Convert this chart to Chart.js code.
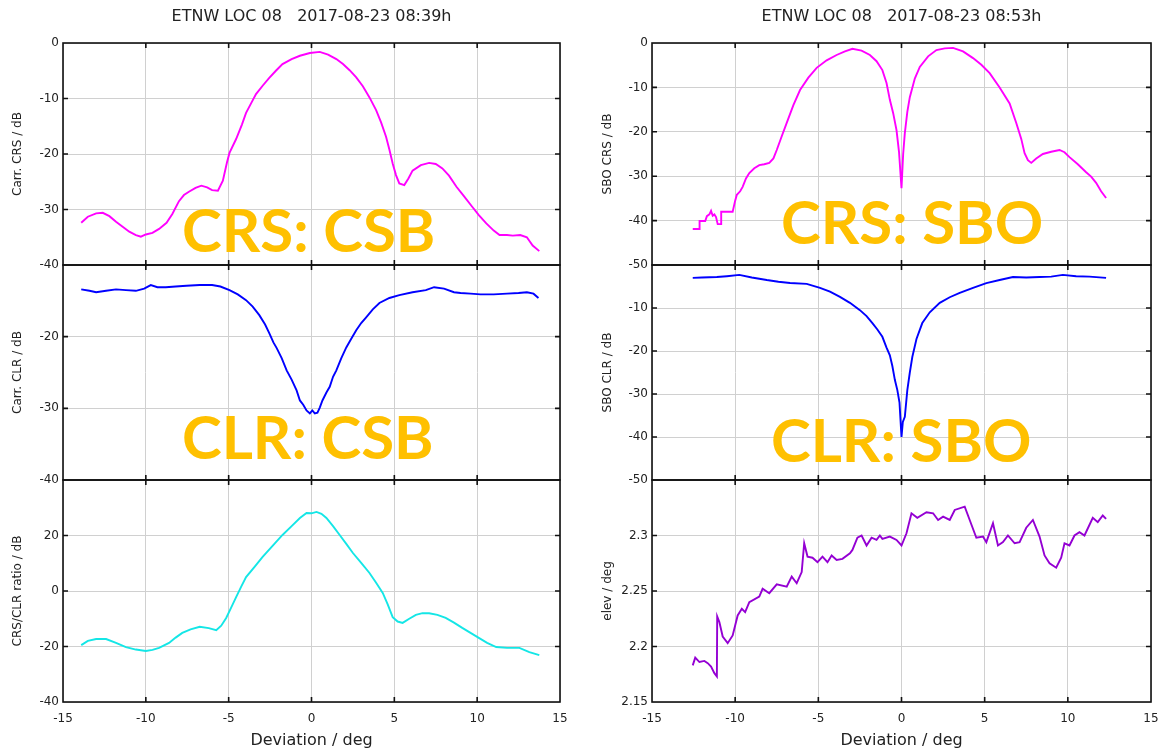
<!DOCTYPE html>
<html>
<head>
<meta charset="utf-8">
<title>ETNW LOC 08</title>
<script src="https://cdn.jsdelivr.net/npm/chart.js@4.4.1/dist/chart.umd.min.js"></script>
<style>
  html, body { margin: 0; padding: 0; background: #fff; }
  #page { position: relative; width: 1170px; height: 756px; overflow: hidden; }
  canvas { position: absolute; top: 0; }
  #csbChart { left: 0; }
  #sboChart { left: 590px; }
  .tag {
    position: absolute;
    font-family: Lato, "Open Sans", sans-serif;
    font-weight: bold;
    font-size: 60px;
    line-height: 1;
    color: #ffc000;
    white-space: nowrap;
  }
</style>
</head>
<body>
<div id="page">
  <canvas id="csbChart" width="590" height="756"></canvas>
  <canvas id="sboChart" width="580" height="756"></canvas>
  <div class="tag" style="left:182px; top:199px;">CRS: CSB</div>
  <div class="tag" style="left:182px; top:406px;">CLR: CSB</div>
  <div class="tag" style="left:781px; top:191px;">CRS: SBO</div>
  <div class="tag" style="left:771px; top:409px;">CLR: SBO</div>
</div>
<script>
// CSB run, 08:39h
const crsCsbDev = [-13.9, -13.5, -13.0, -12.6, -12.2, -11.8, -11.4, -11.0, -10.6, -10.3, -10.0, -9.6, -9.2, -8.75, -8.4, -8.0, -7.7, -7.4, -7.0, -6.65, -6.3, -6.0, -5.65, -5.35, -5.1, -4.95, -4.55, -4.2, -3.95, -3.6, -3.35, -2.95, -2.55, -2.15, -1.75, -1.2, -0.7, -0.1, 0.5, 1.0, 1.5, 1.9, 2.3, 2.7, 3.1, 3.5, 3.9, 4.2, 4.5, 4.7, 4.9, 5.1, 5.3, 5.6, 5.85, 6.1, 6.6, 7.1, 7.5, 7.9, 8.3, 8.75, 9.2, 9.7, 10.1, 10.55, 11.0, 11.35, 11.8, 12.15, 12.6, 13.0, 13.35, 13.75];
const crsCsbDb = [-32.4, -31.3, -30.7, -30.6, -31.2, -32.2, -33.1, -34.0, -34.6, -34.9, -34.5, -34.2, -33.5, -32.4, -30.8, -28.5, -27.4, -26.8, -26.1, -25.7, -26.0, -26.5, -26.6, -24.8, -21.5, -19.8, -17.3, -14.7, -12.6, -10.6, -9.2, -7.7, -6.3, -5.0, -3.8, -2.9, -2.3, -1.8, -1.6, -2.1, -2.9, -3.8, -4.9, -6.2, -7.8, -9.8, -12.1, -14.3, -16.9, -19.2, -21.7, -23.8, -25.3, -25.6, -24.4, -23.0, -22.0, -21.6, -21.8, -22.6, -23.9, -25.9, -27.6, -29.5, -31.0, -32.5, -33.8, -34.6, -34.6, -34.7, -34.6, -35.0, -36.5, -37.5];

const clrCsbDev = [-13.9, -13.4, -13.0, -12.4, -11.8, -11.2, -10.6, -10.1, -9.7, -9.3, -8.8, -8.2, -7.55, -6.75, -6.0, -5.5, -4.95, -4.45, -3.95, -3.55, -3.15, -2.8, -2.55, -2.3, -2.1, -1.8, -1.5, -1.2, -0.9, -0.7, -0.5, -0.3, -0.1, 0.05, 0.2, 0.36, 0.5, 0.66, 0.9, 1.1, 1.3, 1.5, 1.8, 2.1, 2.4, 2.7, 3.0, 3.3, 3.7, 4.1, 4.7, 5.3, 6.1, 6.9, 7.4, 8.0, 8.6, 9.0, 9.6, 10.2, 11.0, 11.8, 12.5, 13.0, 13.4, 13.7];
const clrCsbDb = [-13.4, -13.6, -13.8, -13.6, -13.4, -13.5, -13.6, -13.3, -12.8, -13.1, -13.1, -13.0, -12.9, -12.8, -12.8, -13.0, -13.5, -14.1, -14.9, -15.8, -17.0, -18.3, -19.5, -20.8, -21.6, -23.0, -24.7, -26.0, -27.5, -28.9, -29.5, -30.3, -30.7, -30.3, -30.7, -30.6, -29.9, -28.9, -27.8, -27.0, -25.6, -24.7, -23.0, -21.5, -20.3, -19.1, -18.1, -17.3, -16.2, -15.3, -14.6, -14.2, -13.8, -13.5, -13.1, -13.3, -13.8, -13.9, -14.0, -14.1, -14.1, -14.0, -13.9, -13.8, -14.0, -14.6];

const ratioCsbDev = [-13.9, -13.5, -13.0, -12.4, -11.8, -11.2, -10.6, -10.0, -9.6, -9.2, -8.6, -8.2, -7.8, -7.3, -6.75, -6.2, -5.75, -5.45, -5.15, -4.85, -4.55, -4.25, -3.95, -3.45, -2.95, -2.35, -1.75, -1.2, -0.7, -0.3, 0.0, 0.3, 0.6, 0.9, 1.3, 1.7, 2.1, 2.5, 3.0, 3.5, 3.9, 4.3, 4.6, 4.9, 5.2, 5.5, 5.9, 6.3, 6.7, 7.1, 7.6, 8.1, 8.6, 9.1, 9.6, 10.1, 10.6, 11.15, 11.8, 12.55, 13.15, 13.75];
const ratioCsbDb = [-19.5, -18.0, -17.3, -17.3, -18.7, -20.2, -21.1, -21.6, -21.2, -20.5, -18.7, -16.8, -15.1, -13.8, -12.9, -13.4, -14.1, -12.5, -9.7, -6.0, -2.2, 1.5, 5.0, 8.6, 12.3, 16.3, 20.2, 23.4, 26.3, 28.1, 28.0, 28.5, 27.8, 26.3, 23.4, 20.2, 17.0, 13.7, 10.1, 6.5, 3.0, -0.7, -4.8, -9.4, -11.0, -11.5, -10.0, -8.6, -8.0, -8.0, -8.6, -9.7, -11.4, -13.3, -15.1, -16.9, -18.7, -20.2, -20.5, -20.5, -22.0, -23.1];

// SBO run, 08:53h
const crsSboDev = [-12.55, -12.15, -12.14, -11.8, -11.7, -11.55, -11.45, -11.35, -11.25, -11.15, -11.05, -10.85, -10.84, -10.15, -10.0, -9.9, -9.7, -9.55, -9.35, -9.15, -8.85, -8.55, -8.25, -7.95, -7.7, -7.5, -7.2, -6.9, -6.5, -6.1, -5.6, -5.1, -4.5, -3.9, -3.4, -2.95, -2.4, -1.9, -1.5, -1.15, -0.9, -0.7, -0.5, -0.3, -0.15, 0.0, 0.1, 0.2, 0.35, 0.5, 0.8, 1.1, 1.6, 2.1, 2.6, 3.1, 3.7, 4.3, 4.8, 5.3, 5.9, 6.5, 6.9, 7.2, 7.4, 7.6, 7.8, 8.1, 8.5, 9.0, 9.5, 9.8, 10.1, 10.6, 11.1, 11.4, 11.7, 12.0, 12.3];
const crsSboDb = [-41.9, -41.9, -40.1, -40.1, -39.0, -38.6, -37.8, -38.9, -38.6, -39.2, -40.8, -40.8, -38.0, -38.0, -35.5, -34.2, -33.4, -32.4, -30.5, -29.3, -28.2, -27.5, -27.3, -27.0, -26.0, -24.1, -21.0, -18.0, -14.0, -10.6, -7.8, -5.6, -3.9, -2.7, -1.9, -1.3, -1.7, -2.7, -4.1, -6.1, -9.0, -12.8, -15.8, -19.6, -24.5, -32.7, -25.0, -20.3, -15.5, -12.2, -8.0, -5.4, -3.0, -1.6, -1.2, -1.1, -1.9, -3.4, -4.9, -6.8, -10.0, -13.6, -18.0, -21.6, -24.8, -26.4, -27.0, -26.0, -25.0, -24.5, -24.1, -24.6, -25.7, -27.3, -29.1, -30.1, -31.5, -33.4, -34.9];

const clrSboDev = [-12.55, -12.0, -11.1, -10.5, -9.75, -9.0, -8.1, -7.4, -6.7, -5.7, -4.9, -4.3, -3.7, -3.1, -2.5, -2.1, -1.75, -1.45, -1.15, -0.9, -0.7, -0.55, -0.4, -0.25, -0.12, 0.0, 0.08, 0.2, 0.35, 0.5, 0.65, 0.9, 1.25, 1.7, 2.3, 2.9, 3.5, 4.3, 5.1, 5.9, 6.7, 7.5, 8.3, 9.0, 9.7, 10.5, 11.3, 12.3];
const clrSboDb = [-3.0, -2.9, -2.8, -2.6, -2.3, -2.9, -3.5, -3.9, -4.2, -4.4, -5.3, -6.2, -7.4, -8.8, -10.5, -11.9, -13.5, -15.0, -16.7, -19.2, -21.0, -23.5, -26.7, -29.1, -32.0, -40.0, -36.5, -35.3, -29.1, -25.0, -21.4, -17.2, -13.5, -11.0, -8.8, -7.5, -6.5, -5.3, -4.2, -3.5, -2.8, -2.9, -2.8, -2.7, -2.3, -2.6, -2.7, -3.0];

const elevSboDev = [-12.55, -12.4, -12.15, -11.85, -11.65, -11.45, -11.25, -11.1, -11.08, -10.95, -10.75, -10.45, -10.15, -9.85, -9.6, -9.4, -9.15, -8.55, -8.35, -7.95, -7.5, -6.9, -6.6, -6.3, -6.0, -5.85, -5.65, -5.35, -5.05, -4.75, -4.45, -4.2, -3.9, -3.55, -3.1, -2.95, -2.65, -2.4, -2.1, -1.8, -1.5, -1.3, -1.15, -0.7, -0.3, 0.0, 0.3, 0.6, 0.95, 1.5, 1.9, 2.2, 2.5, 2.9, 3.2, 3.8, 4.1, 4.5, 4.9, 5.1, 5.5, 5.8, 6.1, 6.4, 6.8, 7.1, 7.5, 7.9, 8.3, 8.6, 8.9, 9.3, 9.6, 9.8, 10.1, 10.4, 10.7, 11.0, 11.5, 11.8, 12.1, 12.3];
const elevSboDeg = [2.183, 2.190, 2.186, 2.187, 2.185, 2.182, 2.176, 2.173, 2.227, 2.222, 2.209, 2.203, 2.210, 2.228, 2.234, 2.231, 2.240, 2.245, 2.252, 2.248, 2.256, 2.254, 2.263, 2.257, 2.267, 2.293, 2.281, 2.280, 2.276, 2.281, 2.276, 2.282, 2.278, 2.279, 2.284, 2.287, 2.298, 2.300, 2.291, 2.298, 2.296, 2.300, 2.297, 2.299, 2.296, 2.291, 2.302, 2.320, 2.316, 2.321, 2.320, 2.314, 2.317, 2.314, 2.323, 2.326, 2.314, 2.298, 2.299, 2.294, 2.311, 2.291, 2.294, 2.300, 2.293, 2.294, 2.307, 2.314, 2.299, 2.282, 2.275, 2.271, 2.280, 2.293, 2.291, 2.300, 2.303, 2.300, 2.316, 2.312, 2.318, 2.315];

const devTicks = { min: -15, max: 15, step: 5 };

const sans = 'DejaVu Sans';
const textColor = '#222';
const gridColor = '#d0d0d0';

function points(xs, ys) {
  return xs.map((x, i) => ({ x: x, y: ys[i] }));
}

// one stacked y axis per panel; the top label of the lower panels is left off
function panelAxis(p) {
  return {
    type: 'linear',
    position: 'left',
    stack: 'col',
    stackWeight: p.height,
    weight: p.order,
    min: p.min,
    max: p.max,
    ticks: {
      stepSize: p.step,
      padding: 4,
      color: textColor,
      font: { family: sans, size: 12 },
      callback: (v) => (p.hideTop && Math.abs(v - p.max) < 1e-9) ? '' : String(Number(v.toFixed(2)))
    },
    grid: { color: gridColor, lineWidth: 1, drawTicks: false },
    border: { display: false },
    title: {
      display: true,
      text: p.title,
      color: textColor,
      font: { family: sans, size: 12 },
      padding: { top: 11, bottom: 0 }
    },
    afterFit: (s) => { s.width = p.axisWidth; }
  };
}

// black frame round each panel with small inward ticks, gnuplot style
const panelFrame = {
  id: 'panelFrame',
  afterDraw(chart) {
    const { ctx, chartArea, scales } = chart;
    const xs = scales.x;
    const tick = 5;
    ctx.save();
    ctx.strokeStyle = '#111';
    ctx.lineWidth = 1.6;
    Object.keys(scales).filter(k => k !== 'x').forEach(k => {
      const s = scales[k];
      ctx.strokeRect(chartArea.left, s.top, chartArea.right - chartArea.left, s.bottom - s.top);
      ctx.beginPath();
      xs.ticks.forEach(t => {
        if (t.value <= xs.min || t.value >= xs.max) return;
        const px = xs.getPixelForValue(t.value);
        ctx.moveTo(px, s.top);
        ctx.lineTo(px, s.top + tick);
        ctx.moveTo(px, s.bottom);
        ctx.lineTo(px, s.bottom - tick);
      });
      s.ticks.forEach(t => {
        if (t.value <= s.min || t.value >= s.max) return;
        const py = s.getPixelForValue(t.value);
        ctx.moveTo(chartArea.left, py);
        ctx.lineTo(chartArea.left + tick, py);
        ctx.moveTo(chartArea.right, py);
        ctx.lineTo(chartArea.right - tick, py);
      });
      ctx.stroke();
    });
    ctx.restore();
  }
};

function line(data, axis, color) {
  return {
    data: data,
    yAxisID: axis,
    borderColor: color,
    borderWidth: 1.9,
    pointRadius: 0,
    tension: 0,
    fill: false
  };
}

function buildColumn(canvasId, title, rightPad, axisWidth, panels, datasets) {
  const scales = {
    x: {
      type: 'linear',
      min: devTicks.min,
      max: devTicks.max,
      ticks: {
        stepSize: devTicks.step,
        padding: 10,
        color: textColor,
        font: { family: sans, size: 12 }
      },
      grid: { color: gridColor, lineWidth: 1, drawTicks: false },
      border: { display: false },
      title: {
        display: true,
        text: 'Deviation / deg',
        color: textColor,
        font: { family: sans, size: 16 },
        padding: { top: 0, bottom: 6 }
      },
      afterFit: (s) => { s.height = 54; }
    }
  };
  panels.forEach(p => { scales[p.id] = panelAxis(Object.assign({ axisWidth: axisWidth }, p)); });

  return new Chart(document.getElementById(canvasId), {
    type: 'line',
    data: { datasets: datasets },
    options: {
      responsive: false,
      animation: false,
      layout: { padding: { left: 0, right: rightPad, top: 0, bottom: 0 } },
      scales: scales,
      plugins: {
        legend: { display: false },
        tooltip: { enabled: false },
        title: {
          display: true,
          text: title,
          fullSize: false,
          color: textColor,
          font: { family: sans, size: 16, weight: 'normal' },
          padding: { top: 7, bottom: 16.8 }
        }
      }
    },
    plugins: [panelFrame]
  });
}

buildColumn('csbChart', 'ETNW LOC 08   2017-08-23 08:39h', 30, 63, [
  { id: 'crs', order: 3, height: 222, min: -40, max: 0, step: 10, title: 'Carr. CRS / dB' },
  { id: 'clr', order: 2, height: 215, min: -40, max: -10, step: 10, title: 'Carr. CLR / dB', hideTop: true },
  { id: 'ratio', order: 1, height: 222, min: -40, max: 40, step: 20, title: 'CRS/CLR ratio / dB', hideTop: true }
], [
  line(points(crsCsbDev, crsCsbDb), 'crs', '#ff00ff'),
  line(points(clrCsbDev, clrCsbDb), 'clr', '#0000ff'),
  line(points(ratioCsbDev, ratioCsbDb), 'ratio', '#14e6e6')
]);

buildColumn('sboChart', 'ETNW LOC 08   2017-08-23 08:53h', 19, 62, [
  { id: 'crs', order: 3, height: 222, min: -50, max: 0, step: 10, title: 'SBO CRS / dB' },
  { id: 'clr', order: 2, height: 215, min: -50, max: 0, step: 10, title: 'SBO CLR / dB', hideTop: true },
  { id: 'elev', order: 1, height: 222, min: 2.15, max: 2.35, step: 0.05, title: 'elev / deg', hideTop: true }
], [
  line(points(crsSboDev, crsSboDb), 'crs', '#ff00ff'),
  line(points(clrSboDev, clrSboDb), 'clr', '#0000ff'),
  line(points(elevSboDev, elevSboDeg), 'elev', '#9400d3')
]);
</script>
</body>
</html>
